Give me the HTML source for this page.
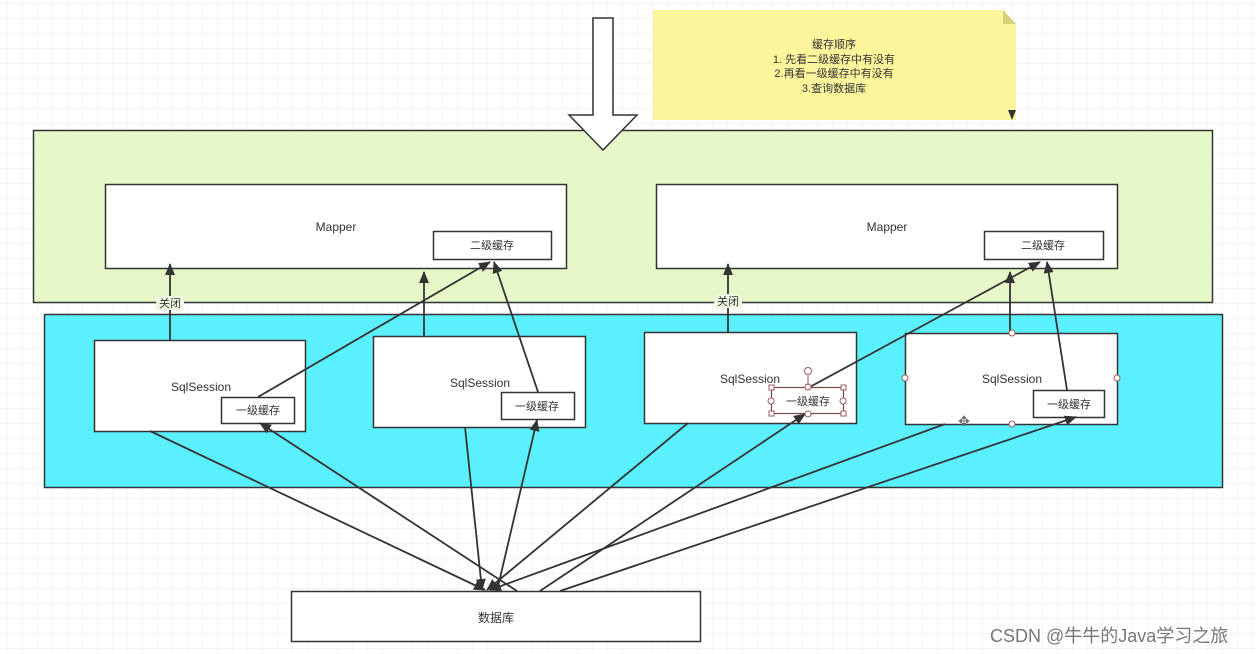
<!DOCTYPE html>
<html><head><meta charset="utf-8"><style>
html,body{margin:0;padding:0;background:#fff;}
svg{display:block;}
text{font-family:"Liberation Sans","Noto Sans CJK SC",sans-serif;fill:#333;}
</style></head><body>
<svg width="1256" height="654" viewBox="0 0 1256 654" xmlns="http://www.w3.org/2000/svg">
<defs>
<pattern id="g" x="7" y="3" width="15" height="15" patternUnits="userSpaceOnUse">
<path d="M0 0H15M0 0V15" stroke="#ebebeb" stroke-width="1" fill="none"/>
</pattern>
<marker id="a" markerWidth="12" markerHeight="12" refX="11" refY="6" orient="auto" markerUnits="userSpaceOnUse">
<path d="M0 1 L12 6 L0 11 Z" fill="#333"/>
</marker>
</defs>
<rect width="1256" height="654" fill="#fff"/>
<rect width="1256" height="654" fill="url(#g)"/>

<path d="M653 10 H1003 L1016 24 V120 H653 Z" fill="#fdf59c"/>
<path d="M1003 10 L1016 24 H1003 Z" fill="#d9d07a"/>
<path d="M1008 110 L1016 110 L1012 120 Z" fill="#333"/>
<text font-size="11" text-anchor="middle" x="834" y="48">缓存顺序</text>
<text font-size="11" text-anchor="middle" x="834" y="63">1. 先看二级缓存中有没有</text>
<text font-size="11" text-anchor="middle" x="834" y="77">2.再看一级缓存中有没有</text>
<text font-size="11" text-anchor="middle" x="834" y="92">3.查询数据库</text>

<rect x="33.5" y="130.5" width="1179" height="172" fill="#e6f8c8" stroke="#333" stroke-width="1.5"/>
<rect x="44.5" y="314.5" width="1178" height="173" fill="#5bf0fe" stroke="#333" stroke-width="1.5"/>

<path d="M593 18 H613 V115 H637 L603 150 L569 115 H593 Z" fill="#fff" stroke="#333" stroke-width="1.5"/>

<rect x="105.5" y="184.5" width="461" height="84" fill="#fff" stroke="#333" stroke-width="1.5"/>
<text font-size="12" text-anchor="middle" x="336" y="231">Mapper</text>
<rect x="433.5" y="231.5" width="118" height="28" fill="#fff" stroke="#333" stroke-width="1.5"/>
<text font-size="11" text-anchor="middle" x="492" y="249">二级缓存</text>
<rect x="656.5" y="184.5" width="461" height="84" fill="#fff" stroke="#333" stroke-width="1.5"/>
<text font-size="12" text-anchor="middle" x="887" y="231">Mapper</text>
<rect x="984.5" y="231.5" width="119" height="28" fill="#fff" stroke="#333" stroke-width="1.5"/>
<text font-size="11" text-anchor="middle" x="1043" y="249">二级缓存</text>

<rect x="94.5" y="340.5" width="211" height="91" fill="#fff" stroke="#333" stroke-width="1.5"/>
<text font-size="12" text-anchor="middle" x="201" y="391">SqlSession</text>
<rect x="221.5" y="397.5" width="73" height="26" fill="#fff" stroke="#333" stroke-width="1.5"/>
<text font-size="11" text-anchor="middle" x="258" y="414">一级缓存</text>

<rect x="373.5" y="336.5" width="212" height="91" fill="#fff" stroke="#333" stroke-width="1.5"/>
<text font-size="12" text-anchor="middle" x="480" y="387">SqlSession</text>
<rect x="501.5" y="392.5" width="73" height="27" fill="#fff" stroke="#333" stroke-width="1.5"/>
<text font-size="11" text-anchor="middle" x="537" y="410">一级缓存</text>

<rect x="644.5" y="332.5" width="212" height="91" fill="#fff" stroke="#333" stroke-width="1.5"/>
<text font-size="12" text-anchor="middle" x="750" y="383">SqlSession</text>
<rect x="771.5" y="387.5" width="72" height="26" fill="#fff" stroke="#7a4a4a" stroke-width="1.2"/>
<text font-size="11" text-anchor="middle" x="808" y="405">一级缓存</text>

<rect x="905.5" y="333.5" width="212" height="91" fill="#fff" stroke="#333" stroke-width="1.5"/>
<text font-size="12" text-anchor="middle" x="1012" y="383">SqlSession</text>
<rect x="1033.5" y="390.5" width="71" height="27" fill="#fff" stroke="#333" stroke-width="1.5"/>
<text font-size="11" text-anchor="middle" x="1069" y="408">一级缓存</text>

<rect x="291.5" y="591.5" width="409" height="50" fill="#fff" stroke="#333" stroke-width="1.5"/>
<text font-size="12" text-anchor="middle" x="496" y="622">数据库</text>

<g stroke="#333" stroke-width="1.8" fill="none" marker-end="url(#a)">
<line x1="170" y1="340" x2="170" y2="264"/>
<line x1="258" y1="397" x2="490" y2="262"/>
<line x1="424" y1="336" x2="424" y2="272"/>
<line x1="538" y1="392" x2="494" y2="262"/>
<line x1="728" y1="332" x2="728" y2="264"/>
<line x1="808" y1="388" x2="1040" y2="262"/>
<line x1="1010" y1="333" x2="1010" y2="272"/>
<line x1="1067" y1="390" x2="1047" y2="262"/>
<line x1="150" y1="431" x2="485" y2="590"/>
<line x1="465" y1="427" x2="482" y2="590"/>
<line x1="688" y1="423" x2="487" y2="590"/>
<line x1="945" y1="424" x2="490" y2="590"/>
<line x1="517" y1="591" x2="260" y2="423"/>
<line x1="497" y1="591" x2="537" y2="420"/>
<line x1="540" y1="591" x2="805" y2="414"/>
<line x1="560" y1="591" x2="1076" y2="417"/>
</g>
<rect x="156" y="296" width="28" height="14" fill="#eef8e0"/>
<text font-size="11" text-anchor="middle" x="170" y="307">关闭</text>
<rect x="714" y="294" width="28" height="14" fill="#eef8e0"/>
<text font-size="11" text-anchor="middle" x="728" y="305">关闭</text>

<g fill="#fff" stroke="#a05a5a" stroke-width="1">
<rect x="769" y="385" width="5" height="5"/><rect x="841" y="385" width="5" height="5"/>
<rect x="769" y="411" width="5" height="5"/><rect x="841" y="411" width="5" height="5"/>
<circle cx="771" cy="401" r="3"/><circle cx="843" cy="401" r="3"/>
<circle cx="808" cy="387" r="3"/><circle cx="808" cy="414" r="3"/>
<circle cx="808" cy="371" r="3.5"/>
<circle cx="1012" cy="333" r="3"/><circle cx="1012" cy="424" r="3"/>
<circle cx="905" cy="378" r="3"/><circle cx="1117" cy="378" r="3"/>
</g>
<line x1="808" y1="374" x2="808" y2="385" stroke="#a05a5a"/>
<text font-size="14" text-anchor="middle" x="964" y="426" style="fill:#666">✥</text>

<text font-size="18" x="990" y="642" style="fill:#777">CSDN @牛牛的Java学习之旅</text>
</svg>
</body></html>
